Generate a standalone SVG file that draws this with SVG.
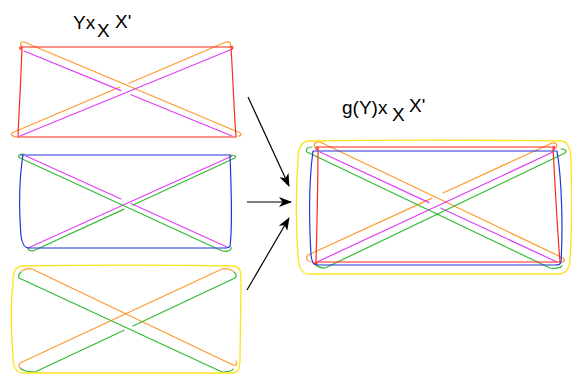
<svg xmlns="http://www.w3.org/2000/svg" width="572" height="376" viewBox="0 0 572 376">
<style>
.s{fill:none;stroke-width:1.2;stroke-linecap:round;stroke-linejoin:round}
.r{stroke:#ff2a1a}.o{stroke:#ff9a2e}.m{stroke:#e040f5}.b{stroke:#2233dd}.g{stroke:#33bb33}.y{stroke:#ffe21a;stroke-width:1.3}
.t{font-family:"Liberation Sans",Arial,sans-serif;font-size:19px;fill:#000}
.a{fill:none;stroke:#000;stroke-width:1.2}
</style>
<defs>
<marker id="ah" markerUnits="userSpaceOnUse" markerWidth="14" markerHeight="10" refX="12" refY="5" orient="auto">
<path d="M0,0 L13,5 L0,10 L3.5,5 Z" fill="#000"/>
</marker>
</defs>
<rect width="572" height="376" fill="#fff"/>

<g id="label-left">
<text class="t" x="73" y="29">Yx</text>
<text class="t" x="97" y="37">X</text>
<text class="t" x="115" y="28">X'</text>
</g>
<g id="label-right">
<text class="t" x="342" y="114">g(Y)x</text>
<text class="t" x="392" y="121">X</text>
<text class="t" x="409" y="112">X'</text>
</g>

<g id="panel-red">
<path class="s o" d="M24,42 L238,132 C242,133 242,136 238,136 M24,42 C21,41 19,44 22,47"/>
<path class="s o" d="M14,132 L120,87.0 M129,83.2 L226,42 C230,41 232,44 230,47 M14,132 C9,134 12,137 18,137"/>
<path class="s m" d="M24,51 L121,90.6 M131,94.7 L232,136"/>
<path class="s m" d="M20,136 L230,50"/>
<path class="s r" d="M22,47 L231,47 C233,80 234,110 236,137 L18,137 C19,110 21,80 22,47 Z M22,47 c-3,-1 -3,3 0,2 M231,47 c2,-2 3,2 0,3"/>
</g>

<g id="panel-blue">
<path class="s m" d="M26,156 L121,199 M131,203.5 L227,247"/>
<path class="s m" d="M28,248 L232,156"/>
<path class="s g" d="M20,158 L220,250 C224,252 232,252 231,247 M20,158 C17,156 19,154 24,154"/>
<path class="s g" d="M33,251 L124,209.1 M133,205 L235,158 C237,156 234,155 230,155 M33,251 C30,251 28,250 28,248"/>
<path class="s b" d="M21,155 L230,155 C231,185 233,225 230,246 C229,248 228,248 226,248 L29,248 C24,248 22,244 21,236 C19,210 19,180 23,155 Z"/>
</g>

<g id="panel-yellow">
<path class="s o" d="M32,269 L233,365 C236,366 238,364 236,361 M32,269 C28,268 25,269 22,271"/>
<path class="s o" d="M20,363 L222,269 C226,268 230,269 233,271 M20,363 C18,366 19,368 22,369"/>
<path class="s g" d="M19,278 L222,372 C226,372 232,371 233,369 M19,278 C18,276 19,274 21,272"/>
<path class="s g" d="M35,372 L124,330.2 M133,326 L235,278 C237,276 236,273 234,272 M35,372 C30,372 24,371 21,369"/>
<path class="s y" d="M21,266 C80,265 180,265 234,266 C241,267 241,273 241,282 L240,358 C240,369 238,373 232,373 L24,373 C15,373 13,366 13,356 C11,330 11,300 13,284 C13,272 15,267 21,266 Z"/>
</g>

<g id="panel-combined">
<path class="s o" d="M320,142 L563,258 C566,260 564,263 560,262 M320,142 C316,141 313,144 315,147"/>
<path class="s o" d="M308,255 L432,198.1 M443,193 L552,143 C556,142 558,145 556,148 M308,255 C305,258 307,261 311,262"/>
<path class="s m" d="M320,152 L429,202.6 M441,208.2 L557,262"/>
<path class="s m" d="M317,262 L553,152"/>
<path class="s g" d="M307,152 L550,268 C554,269 560,268 562,266 M307,152 C305,149 308,147 312,147"/>
<path class="s g" d="M325,268 L565,153 C567,151 565,149 561,149 M325,268 C321,268 318,267 316,265"/>
<path class="s b" d="M313,151 L557,151 C562,180 563,230 561,262 C560,265 558,265 555,265 L318,265 C313,265 312,262 311,255 C309,220 309,180 313,151 Z"/>
<path class="s r" d="M318,147 L553,147 C555,185 557,225 560,262 L316,262 C317,225 318,185 318,147 Z M318,147 c-3,-1 -3,3 0,2 M553,147 c2,-2 3,2 0,3 M316,262 c-3,1 -1,3 1,1"/>
<path class="s y" d="M308,141 C380,140 480,140 562,141 C569,142 571,150 571,162 C572,200 572,230 570,258 C570,268 567,274 558,274 L310,274 C301,274 299,268 298,256 C296,230 296,190 298,160 C298,148 301,142 308,141 Z"/>
</g>

<g id="connectors">
<path class="a" d="M248,97 L289,186" marker-end="url(#ah)"/>
<path class="a" d="M247,202 L291,202" marker-end="url(#ah)"/>
<path class="a" d="M247,290 L289,218" marker-end="url(#ah)"/>
</g>
</svg>
